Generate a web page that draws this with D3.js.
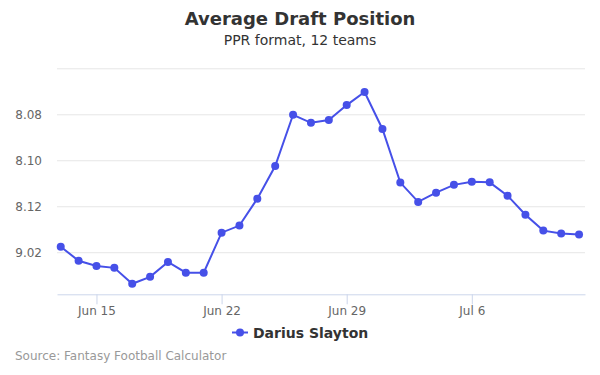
<!DOCTYPE html>
<html>
<head>
<meta charset="utf-8">
<script src="https://cdn.jsdelivr.net/npm/d3@7"></script>
<style>
  body { margin: 0; background: #fff; }
  text { font-family: "DejaVu Sans", sans-serif; }
</style>
</head>
<body>
<div id="chart"></div>
<script>
// data: one ADP reading per day, overall pick number (12 team league)
let dates = ["2019-06-13","2019-06-14","2019-06-15","2019-06-16","2019-06-17","2019-06-18",
  "2019-06-19","2019-06-20","2019-06-21","2019-06-22","2019-06-23","2019-06-24","2019-06-25",
  "2019-06-26","2019-06-27","2019-06-28","2019-06-29","2019-06-30","2019-07-01","2019-07-02",
  "2019-07-03","2019-07-04","2019-07-05","2019-07-06","2019-07-07","2019-07-08","2019-07-09",
  "2019-07-10","2019-07-11","2019-07-12"]
let picks = [97.76, 98.37, 98.60, 98.68, 99.37, 99.07, 98.42, 98.89, 98.89, 97.15, 96.84, 95.67,
  94.25, 92.02, 92.37, 92.25, 91.60, 91.03, 92.64, 94.97, 95.81, 95.41, 95.07, 94.94, 94.96,
  95.54, 96.37, 97.06, 97.19, 97.23]
let yTicks = [90, 92, 94, 96, 98]
let xTicks = ["2019-06-15", "2019-06-22", "2019-06-29", "2019-07-06"]
let seriesName = "Darius Slayton"
let teams = 12

let width = 600, height = 375
let color = "#4650e8"
let parse = d3.timeParse("%Y-%m-%d")

let svg = d3.select('#chart')
    .append('svg')
    .attr('width', width)
    .attr('height', height)

// a little padding (in hours) either side of the first and last day
let x = d3.scaleTime()
    .domain([d3.timeHour.offset(parse(dates[0]), -5), d3.timeHour.offset(parse(dates[dates.length - 1]), 8)])
    .range([57, 585])

let y = d3.scaleLinear()
    .domain([90, 99.83])
    .range([68.3, 294.3])

function fmtPick(p){
  let round = Math.floor((p - 1) / teams) + 1
  let pk = (p - 1) % teams + 1
  return round + "." + String(pk).padStart(2, "0")
}

// title
svg.append("text")
    .attr('x', 300).attr('y', 25)
    .attr('text-anchor', 'middle')
    .style('font-size', '18px').style('font-weight', 'bold').style('fill', '#333')
    .text("Average Draft Position")
svg.append("text")
    .attr('x', 300).attr('y', 45)
    .attr('text-anchor', 'middle')
    .style('font-size', '14px').style('fill', '#333')
    .text("PPR format, 12 teams")

// grid + y labels
let yAxis = svg.append("g")
    .attr('transform', 'translate(57,0)')
    .call(d3.axisLeft(y).tickValues(yTicks).tickSize(-528).tickFormat(d => d == 90 ? "" : fmtPick(d)))
yAxis.select(".domain").remove()
yAxis.selectAll(".tick line").style('stroke', '#e6e6e6')
yAxis.selectAll(".tick text")
    .attr('x', -15)
    .style('font-size', '12px').style('fill', '#666').style('font-family', '"DejaVu Sans", sans-serif')

// x axis
let xAxis = svg.append("g")
    .attr('transform', 'translate(0,294.3)')
    .call(d3.axisBottom(x).tickValues(xTicks.map(parse)).tickSize(10).tickSizeOuter(0).tickFormat(d3.timeFormat("%b %-d")))
xAxis.select(".domain").style('stroke', '#ccd6eb')
xAxis.selectAll(".tick line").style('stroke', '#ccd6eb')
xAxis.selectAll(".tick text")
    .attr('y', 12)
    .style('font-size', '12px').style('fill', '#666').style('font-family', '"DejaVu Sans", sans-serif')

// line and points
let data = dates.map((d, i) => ({date: parse(d), pick: picks[i]}))
svg.append("path")
    .datum(data)
    .style('fill', 'none')
    .style('stroke', color)
    .style('stroke-width', 2)
    .attr('d', d3.line().x(d => x(d.date)).y(d => y(d.pick)))
svg.selectAll(".pt")
    .data(data)
    .enter().append("circle")
    .attr('cx', d => x(d.date))
    .attr('cy', d => y(d.pick))
    .attr('r', 4)
    .style('fill', color)

// legend
svg.append("path")
    .attr('d', "M232,332.5 L248,332.5")
    .style('stroke', color).style('stroke-width', 2)
svg.append("circle")
    .attr('cx', 240).attr('cy', 332.5).attr('r', 4)
    .style('fill', color)
svg.append("text")
    .attr('x', 253).attr('y', 337.5)
    .style('font-size', '14px').style('font-weight', 'bold').style('fill', '#333')
    .text(seriesName)

// credits
svg.append("text")
    .attr('x', 15).attr('y', 360)
    .style('font-size', '12px').style('fill', '#999')
    .text("Source: Fantasy Football Calculator")
</script>
</body>
</html>
